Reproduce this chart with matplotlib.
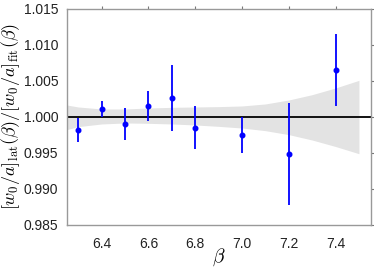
import matplotlib
matplotlib.use("Agg")
import matplotlib.pyplot as plt

beta = [6.3, 6.4, 6.5, 6.6, 6.7, 6.8, 7.0, 7.2, 7.4]
ratio = [0.99819, 1.00106, 0.99907, 1.00157, 1.00259, 0.99852, 0.99750, 0.99491, 1.00648]
err = [0.0017, 0.0011, 0.0022, 0.0021, 0.0046, 0.0030, 0.0025, 0.0071, 0.0050]

band_beta = [6.25, 6.3, 6.4, 6.5, 6.6, 6.7, 6.8, 6.9, 7.0, 7.1, 7.2, 7.3, 7.4, 7.5]
band_upper = [1.00167, 1.00139, 1.00111, 1.00111, 1.00125, 1.00134, 1.00139, 1.00144,
              1.00153, 1.00181, 1.00236, 1.00310, 1.00403, 1.00509]
band_lower = [0.99824, 0.99866, 0.99903, 0.99917, 0.99912, 0.99903, 0.99889, 0.99870,
              0.99847, 0.99810, 0.99755, 0.99680, 0.99590, 0.99490]

xticks = [6.4, 6.6, 6.8, 7.0, 7.2, 7.4]
yticks = [0.985, 0.990, 0.995, 1.000, 1.005, 1.010, 1.015]

plt.rcParams['font.family'] = ['Liberation Sans', 'DejaVu Sans']
plt.rcParams['mathtext.fontset'] = 'cm'

fig = plt.figure(figsize=(3.74, 2.69), dpi=100)
ax = fig.add_axes([0.178, 0.1636, 0.813, 0.803])

ax.fill_between(band_beta, band_lower, band_upper, color='#e3e3e3', linewidth=0, zorder=1)
ax.axhline(1.0, color='black', linewidth=1.3, zorder=2)
ax.errorbar(beta, ratio, yerr=err, fmt='o', color='blue', ecolor='blue',
            markersize=3.3, elinewidth=1.3, capsize=0, zorder=3)

ax.set_xlim(6.25, 7.55)
ax.set_ylim(0.985, 1.015)
ax.set_xticks(xticks)
ax.set_xticklabels([f"{t:.1f}" for t in xticks])
ax.set_yticks(yticks)
ax.set_yticklabels([f"{t:.3f}" for t in yticks])

for s in ax.spines.values():
    s.set_color('#999999')
    s.set_linewidth(1.0)

ax.tick_params(axis='both', which='both', labelsize=10, colors='#777777',
               labelcolor='#222222', direction='out', length=2.5, width=0.8)
ax.tick_params(axis='x', bottom=False, top=True, labelbottom=True, labeltop=False, pad=6)
ax.tick_params(axis='y', left=False, right=True, labelleft=True, labelright=False, pad=3.5)

ax.set_xlabel(r'$\beta$', fontsize=14, labelpad=-3)
ax.set_ylabel(r'$[w_0/a]_{\rm lat}(\beta)/[w_0/a]_{\rm fit}(\beta)$', fontsize=13, labelpad=1)

fig.savefig('out.png', dpi=100)
